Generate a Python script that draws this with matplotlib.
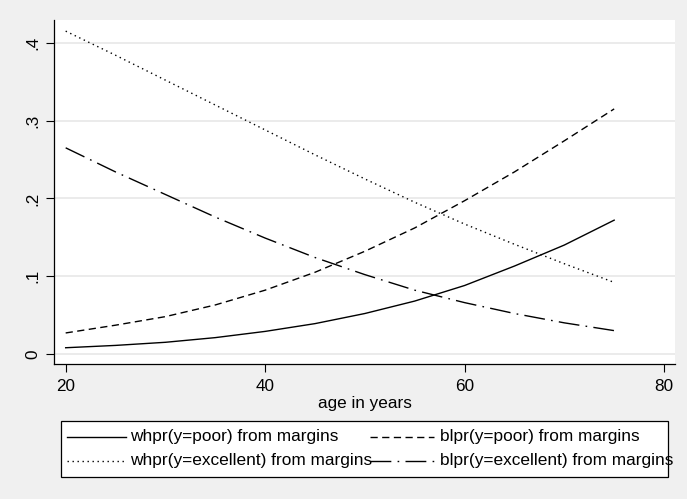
import matplotlib
matplotlib.use("Agg")
import matplotlib.pyplot as plt
from matplotlib.lines import Line2D
from matplotlib.patches import Rectangle

age = [20, 25, 30, 35, 40, 45, 50, 55, 60, 65, 70, 75]
wh_poor = [0.008, 0.011, 0.015, 0.021, 0.029, 0.039, 0.052, 0.068, 0.088, 0.113, 0.140, 0.172]
bl_poor = [0.027, 0.037, 0.048, 0.063, 0.082, 0.105, 0.132, 0.162, 0.197, 0.234, 0.274, 0.315]
wh_exc = [0.415, 0.384, 0.352, 0.320, 0.288, 0.256, 0.225, 0.195, 0.167, 0.141, 0.116, 0.092]
bl_exc = [0.265, 0.234, 0.205, 0.176, 0.149, 0.124, 0.102, 0.082, 0.066, 0.052, 0.040, 0.030]

labels = ["whpr(y=poor) from margins", "blpr(y=poor) from margins",
          "whpr(y=excellent) from margins", "blpr(y=excellent) from margins"]
xticks = [20, 40, 60, 80]
yticks = [0, 0.1, 0.2, 0.3, 0.4]
yticklabels = ["0", ".1", ".2", ".3", ".4"]

plt.rcParams['font.family'] = ['Liberation Sans', 'DejaVu Sans']

W, H = 687, 499
fig = plt.figure(figsize=(W / 100, H / 100), dpi=100)
fig.patch.set_facecolor('#F0F0F0')

def fx(px):
    return px / W

def fy(py):
    return 1 - py / H

left, right, top, bottom = 54, 675, 20, 364
ax = fig.add_axes([fx(left), fy(bottom), fx(right - left), (bottom - top) / H])
ax.set_facecolor('white')

styles = [
    dict(linestyle='-'),
    dict(linestyle=(0, (5.2, 3.2))),
    dict(linestyle=(0, (1.0, 2.6))),
    dict(linestyle=(0, (15, 4.5, 1.2, 4.5))),
]
series = [wh_poor, bl_poor, wh_exc, bl_exc]
for s, st in zip(series, styles):
    ax.plot(age, s, color='black', linewidth=1.0, **st)

ax.set_xlim(18.83, 81.1)
ax.set_ylim(-0.0129, 0.4293)
ax.set_xticks(xticks)
ax.set_xticklabels([str(v) for v in xticks], fontsize=12.3)
ax.set_yticks(yticks)
ax.set_yticklabels(yticklabels, fontsize=12.3, rotation=90, va='center')
ax.tick_params(axis='x', length=5.5, width=0.8, color='black', pad=5.5)
ax.tick_params(axis='y', length=5.5, width=0.8, color='black', pad=4)
ax.yaxis.grid(True, color='#E6E6E6', linewidth=1.1)
ax.set_axisbelow(True)
for sp in ['top', 'right']:
    ax.spines[sp].set_visible(False)
for sp in ['left', 'bottom']:
    ax.spines[sp].set_linewidth(0.9)
ax.set_xlabel('age in years', fontsize=12.3, labelpad=1.5)

# manual legend (text overflows box as in the original)
lx0, lx1, ly0, ly1 = 60.7, 668.3, 421.3, 477.3
fig.add_artist(Rectangle((fx(lx0), fy(ly1)), fx(lx1 - lx0), (ly1 - ly0) / H,
                         transform=fig.transFigure, facecolor='white',
                         edgecolor='black', linewidth=0.9))
rows = [436.7, 461.0]
cols = [(67, 126, 130), (370, 434, 440)]
order = [(0, 0), (0, 1), (1, 0), (1, 1)]
for i, (r, c) in enumerate(order):
    x0, x1, tx = cols[c]
    yy = rows[r]
    fig.add_artist(Line2D([fx(x0), fx(x1)], [fy(yy), fy(yy)], transform=fig.transFigure,
                          color='black', linewidth=1.0, **styles[i]))
    fig.text(fx(tx), fy(yy), labels[i], fontsize=12.4, va='center', ha='left')

fig.savefig('out.png', dpi=100, facecolor=fig.get_facecolor())
